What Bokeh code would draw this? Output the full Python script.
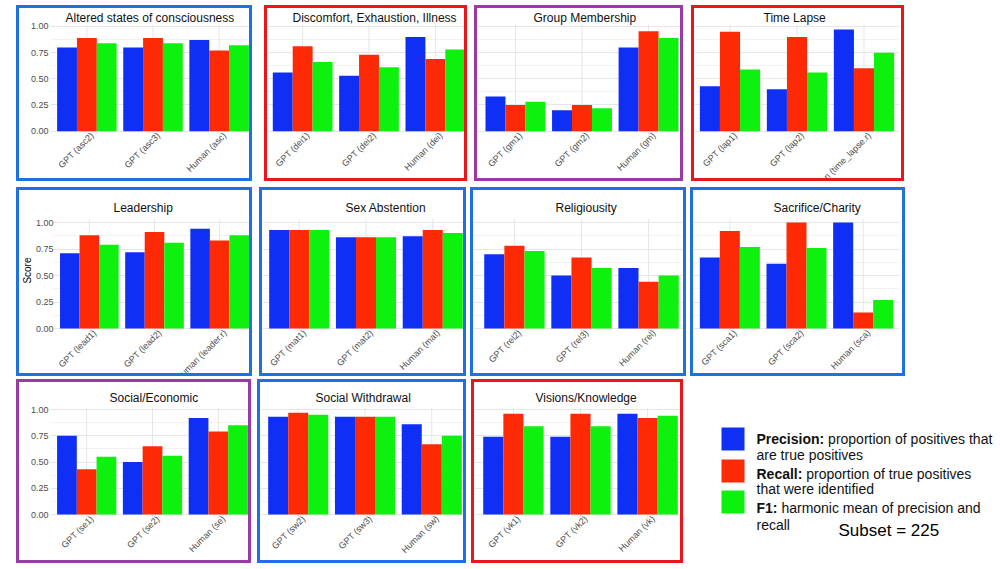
from math import pi
from bokeh.plotting import figure
from bokeh.layouts import row, column, Spacer
from bokeh.models import (ColumnDataSource, FactorRange, Range1d, FixedTicker,
                          PrintfTickFormatter, Title)
from bokeh.transform import dodge
from bokeh.core.properties import value
from bokeh.embed import file_html
from bokeh.resources import INLINE

# ---------------- data ----------------
titles = ["Altered states of consciousness", "Discomfort, Exhaustion, Illness",
          "Group Membership", "Time Lapse", "Leadership", "Sex Abstention",
          "Religiousity", "Sacrifice/Charity", "Social/Economic",
          "Social Withdrawal", "Visions/Knowledge"]
methods = [
    ["GPT (asc2)", "GPT (asc3)", "Human (asc)"],
    ["GPT (dei1)", "GPT (dei2)", "Human (dei)"],
    ["GPT (gm1)", "GPT (gm2)", "Human (gm)"],
    ["GPT (lap1)", "GPT (lap2)", "Human (time_lapse.r)"],
    ["GPT (lead1)", "GPT (lead2)", "Human (leader.r)"],
    ["GPT (mat1)", "GPT (mat2)", "Human (mat)"],
    ["GPT (rel2)", "GPT (rel3)", "Human (rel)"],
    ["GPT (sca1)", "GPT (sca2)", "Human (sca)"],
    ["GPT (se1)", "GPT (se2)", "Human (se)"],
    ["GPT (sw2)", "GPT (sw3)", "Human (sw)"],
    ["GPT (vk1)", "GPT (vk2)", "Human (vk)"],
]
precision = [[0.80, 0.80, 0.87], [0.56, 0.53, 0.90], [0.33, 0.20, 0.80],
             [0.43, 0.40, 0.97], [0.71, 0.72, 0.94], [0.93, 0.86, 0.87],
             [0.70, 0.50, 0.57], [0.67, 0.61, 1.00], [0.75, 0.50, 0.92],
             [0.93, 0.93, 0.86], [0.74, 0.74, 0.96]]
recall = [[0.89, 0.89, 0.77], [0.81, 0.73, 0.69], [0.25, 0.25, 0.955],
          [0.95, 0.90, 0.60], [0.88, 0.91, 0.83], [0.93, 0.86, 0.93],
          [0.78, 0.67, 0.44], [0.92, 1.00, 0.15], [0.43, 0.65, 0.79],
          [0.97, 0.93, 0.67], [0.96, 0.96, 0.92]]
f1 = [[0.84, 0.84, 0.82], [0.66, 0.61, 0.78], [0.28, 0.22, 0.89],
      [0.59, 0.56, 0.75], [0.79, 0.81, 0.88], [0.93, 0.86, 0.90],
      [0.73, 0.57, 0.50], [0.77, 0.76, 0.27], [0.55, 0.56, 0.85],
      [0.95, 0.93, 0.75], [0.84, 0.84, 0.94]]
metric_names = ["Precision", "Recall", "F1"]
metric_colors = ["#0f2ff5", "#fd2a05", "#0ef00e"]
y_ticks = [0.0, 0.25, 0.5, 0.75, 1.0]
y_minor = [0.125, 0.375, 0.625, 0.875]
y_label = "Score"
legend_bold = ["Precision:", "Recall:", "F1:"]
legend_rest = ["proportion of positives that", "proportion of true positives",
               "harmonic mean of precision and"]
legend_line2 = ["are true positives", "that were identified", "recall"]
subset_text = "Subset = 225"

# ---------------- layout / style ----------------
BLUE, RED, PURPLE = "#1f6fe5", "#e8151b", "#9a3aa8"
border = [BLUE, RED, PURPLE, RED, BLUE, BLUE, BLUE, BLUE, PURPLE, BLUE, RED]
box_w = [236, 203, 209, 213, 236, 207, 216, 215, 235, 209, 212]
gap_before = [16, 12, 7, 8, 16, 7, 4, 4, 16, 6, 5]
row_of = [0, 0, 0, 0, 1, 1, 1, 1, 2, 2, 2]
row_h = [176, 189, 184]
row_gap = [5, 6, 3]
# inside-border pixel positions: frame top, value 1.0, value 0.0
row_top = [14, 28, 25]
row_one = [16, 32, 27]
row_zero = [122, 138, 132]
title_standoff = [0, 7, 5]
ml = [31, 0, 0, 0, 31, 0, 0, 0, 31, 0, 0]
mr = [0, 0, 0, 8, 0, 0, 0, 9, 0, 0, 0]
pad = [0.05, 0.03, 0.07, 0.03, 0.05, 0.05, 0.11, 0.045, 0.05, 0.065, 0.08]
title_left = [65, 292, 533, 763, 110, 345, 555, 773, 109, 315, 535]
BW = 3
GRID = "#e6e6e6"
MINOR = "#f2f2f2"

rows_children = [[], [], []]
x_cursor = [0, 0, 0]


def make_panel(i):
    r = row_of[i]
    x_cursor[r] += gap_before[i]
    box_left = x_cursor[r]
    x_cursor[r] += box_w[i]
    frame_left = box_left + BW + ml[i]

    inner_h = row_h[r]
    s = row_zero[r] - row_one[r]
    y_hi = 1 + (row_one[r] - row_top[r]) / s
    y_lo = -(inner_h - row_zero[r]) / s
    label_y = -0.05 + 6.0 / s

    p = figure(x_range=FactorRange(*methods[i], range_padding=pad[i],
                                   range_padding_units="absolute"),
               y_range=Range1d(y_lo, y_hi),
               width=box_w[i], height=row_h[r],
               output_backend="svg", toolbar_location=None,
               min_border_left=ml[i], min_border_right=mr[i],
               min_border_top=row_top[r], min_border_bottom=0,
               styles={"border": f"{BW}px solid {border[i]}"})
    p.outline_line_color = None
    p.background_fill_color = "white"
    p.border_fill_color = "white"

    p.title.text = titles[i]
    p.title.align = "left"
    p.title.offset = title_left[i] - frame_left
    p.title.standoff = title_standoff[r]
    p.title.text_font = "Liberation Sans"
    p.title.text_font_size = "12px"
    p.title.text_font_style = "normal"
    p.title.text_color = "#111111"

    src = ColumnDataSource(dict(method=methods[i], Precision=precision[i],
                                Recall=recall[i], F1=f1[i]))

    # vertical grid lines at the categories (panel area only)
    p.xgrid.visible = False
    p.segment(x0="method", y0=-0.05, x1="method", y1=y_hi, source=src,
              line_color=GRID, line_width=1)

    for k, (name, color) in enumerate(zip(metric_names, metric_colors)):
        p.vbar(x=dodge("method", (k - 1) * 0.3, range=p.x_range), top=name,
               width=0.3, source=src, fill_color=color, line_color=None)

    ticker = FixedTicker(ticks=y_ticks, minor_ticks=y_minor)
    p.yaxis.ticker = ticker
    p.ygrid.ticker = ticker
    p.ygrid.grid_line_color = GRID
    p.ygrid.minor_grid_line_color = MINOR

    p.xaxis.visible = False
    if ml[i] > 0:
        ax = p.yaxis[0]
        ax.formatter = PrintfTickFormatter(format="%.2f")
        ax.axis_line_color = None
        ax.major_tick_line_color = None
        ax.minor_tick_line_color = None
        ax.major_tick_out = 0
        ax.minor_tick_out = 0
        ax.major_label_standoff = 2
        ax.major_label_text_font = "Liberation Sans"
        ax.major_label_text_font_size = "9px"
        ax.major_label_text_color = "#4d4d4d"
        if i == 4:
            ax.major_label_standoff = 0
            yt = Title(text=y_label, align="right", offset=39, standoff=0,
                       text_font="Liberation Sans", text_font_size="10px",
                       text_font_style="normal", text_color="#000000")
            p.add_layout(yt, "left")
    else:
        p.yaxis.visible = False

    # category labels, rotated 45 degrees under the panel
    p.text(x="method", y=label_y, text="method", source=src,
           angle=pi / 4, text_align="right", text_baseline="top", x_offset=2,
           text_font=value("Liberation Sans"), text_font_size="9px",
           text_color="#4d4d4d")
    rows_children[r].append(Spacer(width=gap_before[i]))
    rows_children[r].append(p)


for i in range(len(titles)):
    make_panel(i)

# ---------------- legend panel (pixel-like coordinates, y measured downward) ----------------
LW, LH = 307, 184
LEG_TOP = 24          # space Bokeh keeps above this frame
lg = figure(frame_width=LW, frame_height=LH - LEG_TOP,
            x_range=Range1d(0, LW), y_range=Range1d(LH, LEG_TOP),
            output_backend="svg", toolbar_location=None,
            min_border_left=0, min_border_right=0, min_border_top=0,
            min_border_bottom=0)
lg.title.text = ""
lg.title.text_font_size = "1px"
lg.title.standoff = 0
lg.outline_line_color = None
lg.xaxis.visible = False
lg.yaxis.visible = False
lg.xgrid.visible = False
lg.ygrid.visible = False

sq_top = [47, 79, 110]
lg.quad(left=[31] * 3, right=[54] * 3, top=sq_top, bottom=[t + 23 for t in sq_top],
        fill_color=metric_colors, line_color=None)
line1_y = [58, 93, 127]
line2_y = [74, 108, 144]
rest_x = [137.6, 115.8, 90.9]
lg.text(x=[66] * 3, y=line1_y, text=legend_bold, text_font=value("Liberation Sans"),
        text_font_size="14px", text_font_style="bold", text_color="#111111",
        text_baseline="alphabetic")
lg.text(x=rest_x, y=line1_y, text=legend_rest, text_font=value("Liberation Sans"),
        text_font_size="14px", text_color="#111111", text_baseline="alphabetic")
lg.text(x=[66] * 3, y=line2_y, text=legend_line2, text_font=value("Liberation Sans"),
        text_font_size="14px", text_color="#111111", text_baseline="alphabetic")
lg.text(x=[148], y=[150], text=[subset_text], text_font=value("Liberation Sans"),
        text_font_size="17px", text_color="#000000", text_baseline="alphabetic")
rows_children[2].append(Spacer(width=7))
rows_children[2].append(lg)

page = column(Spacer(height=row_gap[0]), row(*rows_children[0]),
              Spacer(height=row_gap[1]), row(*rows_children[1]),
              Spacer(height=row_gap[2]), row(*rows_children[2]))

open("out.html", "w").write(file_html(page, INLINE))
